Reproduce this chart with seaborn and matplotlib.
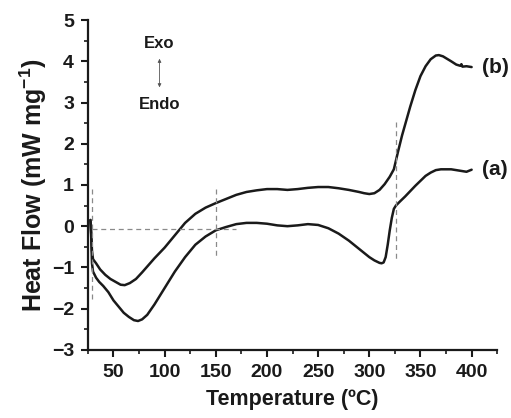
import matplotlib
matplotlib.use("Agg")
import matplotlib.pyplot as plt
import seaborn as sns
import pandas as pd
from matplotlib.ticker import MultipleLocator

# ---- data ----
temp_a = [27.5, 28.3, 29, 30, 33, 36, 40, 45, 50, 55, 60, 65, 70, 74, 78, 83,
          90, 100, 110, 120, 130, 140, 150, 160, 170, 180, 190, 200, 210, 220,
          230, 240, 250, 260, 270, 280, 290, 300, 305, 310, 312, 314, 316, 318,
          320, 322, 324, 326, 330, 335, 340, 345, 350, 355, 360, 365, 370, 380,
          390, 395, 400]
flow_a = [0.15, -0.3, -0.9, -1.1, -1.25, -1.35, -1.45, -1.6, -1.8, -1.95, -2.1,
          -2.2, -2.28, -2.3, -2.26, -2.15, -1.9, -1.5, -1.1, -0.75, -0.45, -0.25,
          -0.1, -0.02, 0.05, 0.08, 0.08, 0.06, 0.02, 0.0, 0.02, 0.05, 0.03, -0.05,
          -0.18, -0.35, -0.55, -0.75, -0.83, -0.89, -0.9, -0.88, -0.75, -0.45,
          -0.1, 0.2, 0.42, 0.5, 0.6, 0.72, 0.85, 0.98, 1.1, 1.22, 1.3, 1.36,
          1.38, 1.38, 1.34, 1.32, 1.37]

temp_b = [27.5, 28.3, 29, 30, 33, 37, 42, 47, 52, 57, 61, 66, 72, 78, 84, 90,
          100, 110, 120, 130, 140, 150, 160, 170, 180, 190, 200, 210, 220, 230,
          240, 250, 260, 270, 280, 290, 295, 300, 305, 310, 315, 320, 324, 328,
          332, 336, 340, 345, 350, 355, 360, 365, 368, 372, 376, 380, 385, 389,
          390, 391, 395, 400]
flow_b = [0.15, -0.2, -0.6, -0.8, -0.9, -1.05, -1.18, -1.28, -1.35, -1.42, -1.43,
          -1.38, -1.28, -1.12, -0.95, -0.78, -0.52, -0.22, 0.08, 0.3, 0.45, 0.56,
          0.66, 0.76, 0.83, 0.87, 0.9, 0.9, 0.88, 0.9, 0.93, 0.95, 0.95, 0.92,
          0.88, 0.83, 0.8, 0.78, 0.8, 0.88, 1.02, 1.2, 1.38, 1.8, 2.2, 2.55, 2.9,
          3.3, 3.64, 3.88, 4.05, 4.14, 4.15, 4.12, 4.06, 4.0, 3.92, 3.89, 3.93,
          3.87, 3.88, 3.86]

series_labels = ["(a)", "(b)"]
x_ticks = [50, 100, 150, 200, 250, 300, 350, 400]
y_ticks = [-3, -2, -1, 0, 1, 2, 3, 4, 5]

df = pd.concat([
    pd.DataFrame({"T": temp_a, "HF": flow_a, "s": "(a)"}),
    pd.DataFrame({"T": temp_b, "HF": flow_b, "s": "(b)"}),
])

sns.set_style("ticks")
plt.rcParams["font.family"] = ["Liberation Sans", "DejaVu Sans"]
plt.rcParams["font.weight"] = "bold"
plt.rcParams["mathtext.fontset"] = "custom"
plt.rcParams["mathtext.rm"] = "Liberation Sans:bold"
plt.rcParams["mathtext.default"] = "rm"

fig = plt.figure(figsize=(5.11, 4.18), dpi=100)
ax = fig.add_axes([0.172, 0.163, 0.801, 0.789])

sns.lineplot(data=df, x="T", y="HF", units="s", estimator=None, sort=False,
             color="#1a1a1a", linewidth=1.8, ax=ax, legend=False)

# dashed guide lines
dash = dict(color="#8a8a8a", linewidth=0.9, linestyle=(0, (4, 3)))
ax.plot([29.5, 29.5], [0.9, -1.8], **dash)
ax.plot([29.5, 170], [-0.07, -0.07], **dash)
ax.plot([150, 150], [0.9, -0.72], **dash)
ax.plot([326, 326], [2.52, -0.85], **dash)

# labels at curve ends
ax.text(410, flow_b[-1], series_labels[1], fontsize=15, fontweight="bold",
        va="center", ha="left", clip_on=False, color="#1a1a1a")
ax.text(410, flow_a[-1], series_labels[0], fontsize=15, fontweight="bold",
        va="center", ha="left", clip_on=False, color="#1a1a1a")

# Exo / Endo annotation
ax.text(95, 4.42, "Exo", fontsize=12, fontweight="bold", ha="center",
        va="center", color="#1a1a1a")
ax.text(95, 2.96, "Endo", fontsize=12, fontweight="bold", ha="center",
        va="center", color="#1a1a1a")
ax.annotate("", xy=(95, 4.13), xytext=(95, 3.3),
            arrowprops=dict(arrowstyle="<|-|>", color="#555555", lw=0.6,
                            mutation_scale=5))

ax.set_xlim(25, 425)
ax.set_ylim(-3, 5)
ax.set_xticks(x_ticks)
ax.set_yticks(y_ticks)
ax.xaxis.set_minor_locator(MultipleLocator(25))
ax.yaxis.set_minor_locator(MultipleLocator(0.5))
ax.tick_params(which="major", direction="out", length=5, width=1.5,
               labelsize=14, color="#1a1a1a", labelcolor="#1a1a1a", pad=5)
ax.tick_params(which="minor", direction="out", length=3, width=1.2,
               color="#1a1a1a")
for lab in ax.get_xticklabels() + ax.get_yticklabels():
    lab.set_fontweight("bold")

for side in ["top", "right"]:
    ax.spines[side].set_visible(False)
for side in ["left", "bottom"]:
    ax.spines[side].set_linewidth(1.6)
    ax.spines[side].set_color("#1a1a1a")

ax.set_xlabel("Temperature (ºC)", fontsize=15.5, fontweight="bold",
              color="#1a1a1a", labelpad=6)
ax.set_ylabel("Heat Flow (mW mg$^{-1}$)", fontsize=18, fontweight="bold",
              color="#1a1a1a", labelpad=2)

fig.savefig("out.png", dpi=100)
